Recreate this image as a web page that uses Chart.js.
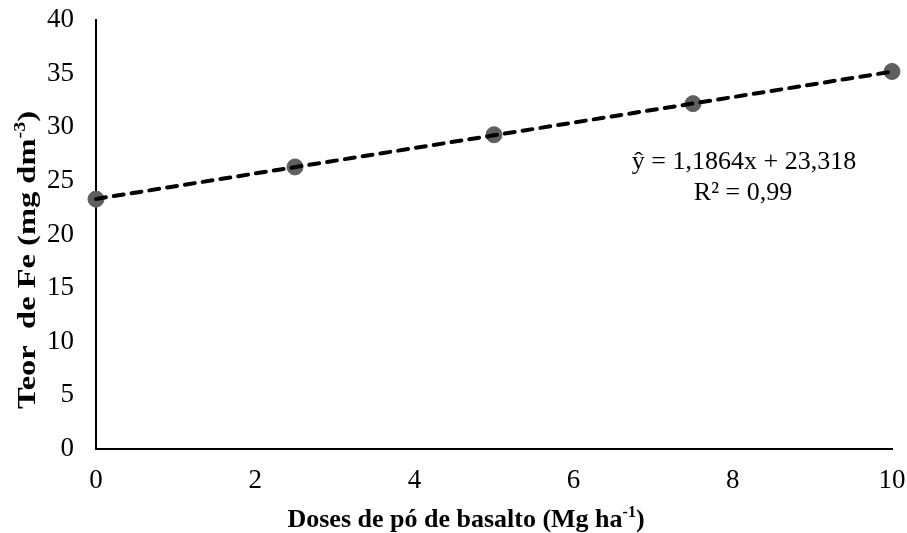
<!DOCTYPE html>
<html>
<head>
<meta charset="utf-8">
<script src="https://cdn.jsdelivr.net/npm/chart.js@4.4.1/dist/chart.umd.min.js"></script>
<style>
  html, body { margin: 0; padding: 0; background: #fff; }
  #wrap { width: 907px; height: 533px; position: relative; }
</style>
</head>
<body>
<div id="wrap"><canvas id="c" width="907" height="533"></canvas></div>
<script>
// Doses of basalt powder (Mg/ha) and measured Fe content (mg/dm3)
const doses = [0, 2.5, 5, 7.5, 10];
const feContent = [23.3, 26.3, 29.3, 32.2, 35.2];

// Linear fit reported on the chart: y = a*x + b
const fitSlope = 1.1864;
const fitIntercept = 23.318;
const fitRange = [0, 10];

const xTicks = [0, 2, 4, 6, 8, 10];
const yTicks = [0, 5, 10, 15, 20, 25, 30, 35, 40];

const equationLines = ['ŷ = 1,1864x + 23,318', 'R² = 0,99'];

const SERIF = '"Liberation Serif", "Times New Roman", serif';

// Draws the axis titles (with superscripts) and the regression equation
const annotations = {
  id: 'annotations',
  afterDraw(chart) {
    const ctx = chart.ctx;
    ctx.save();
    ctx.fillStyle = '#000';
    ctx.textBaseline = 'alphabetic';

    const fontFor = (sup, size) => 'bold ' + (sup ? Math.round(size * 0.62) : size) + 'px ' + SERIF;

    // width of a list of [text, isSuperscript] runs
    function runsWidth(runs, size) {
      return runs.reduce((sum, r) => {
        ctx.font = fontFor(r[1], size);
        return sum + ctx.measureText(r[0]).width;
      }, 0);
    }

    // draw runs starting at x = 0, baseline y = 0 (current transform)
    function drawRuns(runs, size) {
      let x = 0;
      ctx.textAlign = 'left';
      runs.forEach(r => {
        ctx.font = fontFor(r[1], size);
        ctx.fillText(r[0], x, r[1] ? -size * 0.38 : 0);
        x += ctx.measureText(r[0]).width;
      });
    }

    // x-axis title
    const xRuns = [['Doses de pó de basalto (Mg ha', false], ['-1', true], [')', false]];
    const xSize = 26;
    const xw = runsWidth(xRuns, xSize);
    ctx.save();
    ctx.translate(466 - xw / 2, 527);
    drawRuns(xRuns, xSize);
    ctx.restore();

    // y-axis title, rotated and spread along its length
    const yRuns = [['Teor  de Fe (mg dm', false], ['-3', true], [')', false]];
    const ySize = 26;
    const yw = runsWidth(yRuns, ySize);
    const yLen = 298;
    ctx.save();
    ctx.translate(35, 260);
    ctx.rotate(-Math.PI / 2);
    ctx.scale(yLen / yw, 1);
    ctx.translate(-yw / 2, 0);
    drawRuns(yRuns, ySize);
    ctx.restore();

    // regression equation
    ctx.font = '26px ' + SERIF;
    ctx.textAlign = 'center';
    ctx.fillText(equationLines[0], 744, 169);
    ctx.fillText(equationLines[1], 743, 200);
    ctx.restore();
  }
};

const data = {
  datasets: [
    {
      type: 'line',
      label: 'Linear (Teor de Fe)',
      data: fitRange.map(x => ({ x: x, y: fitSlope * x + fitIntercept })),
      borderColor: '#000',
      borderWidth: 4,
      borderDash: [10, 8],
      borderCapStyle: 'round',
      pointRadius: 0,
      fill: false,
      clip: false,
      order: 1
    },
    {
      type: 'scatter',
      label: 'Teor de Fe',
      data: doses.map((d, i) => ({ x: d, y: feContent[i] })),
      backgroundColor: '#5f5f5f',
      borderColor: '#5f5f5f',
      pointRadius: 8,
      pointHoverRadius: 8,
      clip: false,
      order: 2
    }
  ]
};

new Chart(document.getElementById('c'), {
  type: 'scatter',
  data: data,
  options: {
    responsive: false,
    animation: false,
    devicePixelRatio: 1,
    layout: { padding: { left: 0, right: 15, top: 20, bottom: 0 } },
    plugins: {
      legend: { display: false },
      tooltip: { enabled: false }
    },
    scales: {
      x: {
        type: 'linear',
        min: 0, max: 10,
        afterBuildTicks(scale) { scale.ticks = xTicks.map(v => ({ value: v })); },
        afterFit(scale) {
          scale.height = 84;
          scale.paddingLeft = 0;
          scale.paddingRight = 0;
        },
        grid: { display: false, drawTicks: false },
        border: { display: true, color: '#000', width: 2 },
        ticks: {
          color: '#000',
          padding: 16,
          maxRotation: 0,
          font: { family: SERIF, size: 27 }
        }
      },
      y: {
        type: 'linear',
        min: 0, max: 40,
        afterBuildTicks(scale) { scale.ticks = yTicks.map(v => ({ value: v })); },
        afterFit(scale) {
          scale.width = 96;
          scale.paddingTop = 0;
          scale.paddingBottom = 0;
        },
        grid: { display: false, drawTicks: false },
        border: { display: true, color: '#000', width: 2 },
        ticks: {
          color: '#000',
          padding: 22,
          font: { family: SERIF, size: 27 }
        }
      }
    }
  },
  plugins: [annotations]
});
</script>
</body>
</html>
